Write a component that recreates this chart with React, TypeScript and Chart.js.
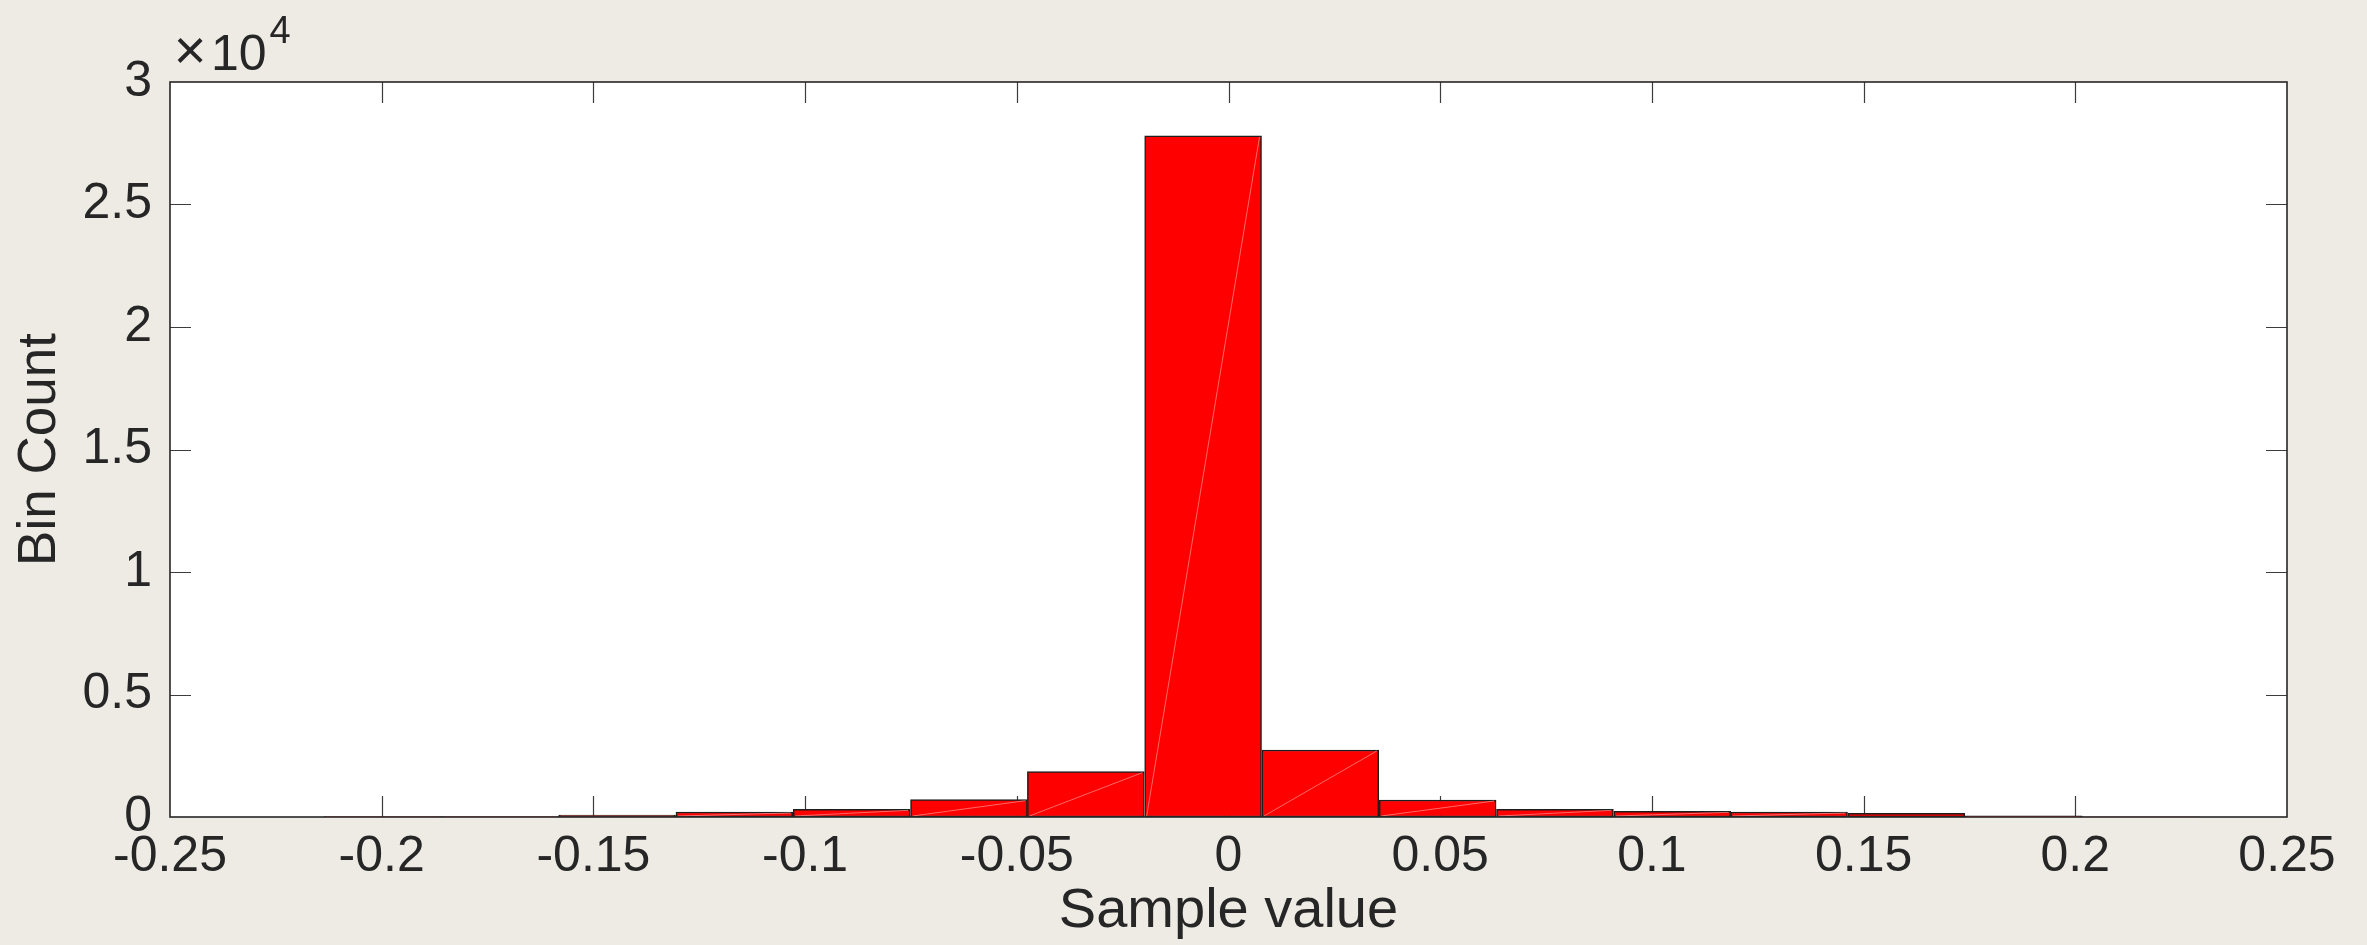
import React, { useEffect, useRef } from "react";
import { Chart, registerables } from "chart.js";

Chart.register(...registerables);

// ---- data ----
const binCenters = [
  -0.1998, -0.1721, -0.1444, -0.1167, -0.089, -0.0613, -0.0337, -0.006,
  0.0217, 0.0494, 0.0771, 0.1048, 0.1324, 0.1601, 0.1878, 0.2155,
];
const binCounts = [15, 20, 80, 205, 313, 707, 1850, 27800, 2735, 694, 313, 231, 204, 150, 45, 10];

const xTickValues = [-0.25, -0.2, -0.15, -0.1, -0.05, 0, 0.05, 0.1, 0.15, 0.2, 0.25];
const xTickLabels = ["-0.25", "-0.2", "-0.15", "-0.1", "-0.05", "0", "0.05", "0.1", "0.15", "0.2", "0.25"];
const yTickValues = [0, 5000, 10000, 15000, 20000, 25000, 30000];
const yTickLabels = ["0", "0.5", "1", "1.5", "2", "2.5", "3"];
const yExponentBase = "10";
const yExponent = "4";
const xTitle = "Sample value";
const yTitle = "Bin Count";

const FONT = '"Liberation Sans", Arial, Helvetica, sans-serif';
const TEXT = "#262626";
const W = 2367;
const H = 945;

const plotBg = {
  id: "plotBg",
  beforeDraw(chart: any) {
    const { ctx, chartArea } = chart;
    ctx.save();
    ctx.fillStyle = "#ffffff";
    ctx.fillRect(chartArea.left, chartArea.top, chartArea.right - chartArea.left, chartArea.bottom - chartArea.top);
    ctx.restore();
  },
};

const TICK_LEN = 21;

const axesTicks = {
  id: "axesTicks",
  beforeDatasetsDraw(chart: any) {
    const { ctx, chartArea } = chart;
    const xs = chart.scales.x;
    const ys = chart.scales.y;
    ctx.save();
    ctx.strokeStyle = "#3c3c3c";
    ctx.lineWidth = 1.2;
    ctx.beginPath();
    xTickValues.forEach((v) => {
      const px = Math.round(xs.getPixelForValue(v)) + 0.5;
      if (px <= chartArea.left + 1 || px >= chartArea.right - 1) return;
      ctx.moveTo(px, chartArea.bottom);
      ctx.lineTo(px, chartArea.bottom - TICK_LEN);
      ctx.moveTo(px, chartArea.top);
      ctx.lineTo(px, chartArea.top + TICK_LEN);
    });
    yTickValues.forEach((v) => {
      const py = Math.round(ys.getPixelForValue(v)) + 0.5;
      if (py <= chartArea.top + 1 || py >= chartArea.bottom - 1) return;
      ctx.moveTo(chartArea.left, py);
      ctx.lineTo(chartArea.left + TICK_LEN, py);
      ctx.moveTo(chartArea.right, py);
      ctx.lineTo(chartArea.right - TICK_LEN, py);
    });
    ctx.stroke();
    ctx.restore();
  },
  afterDatasetsDraw(chart: any) {
    const { ctx, chartArea } = chart;
    // faint diagonal seams visible inside the bars of the reference
    const meta = chart.getDatasetMeta(0);
    ctx.save();
    ctx.beginPath();
    ctx.rect(chartArea.left, chartArea.top, chartArea.right - chartArea.left, chartArea.bottom - chartArea.top);
    ctx.clip();
    ctx.strokeStyle = "rgba(255,190,190,0.55)";
    ctx.lineWidth = 1;
    meta.data.forEach((el: any) => {
      const p = el.getProps(["x", "y", "base", "width"], true);
      if (Math.abs(p.base - p.y) < 4) return;
      ctx.beginPath();
      ctx.moveTo(p.x - p.width / 2 + 2, p.base - 1);
      ctx.lineTo(p.x + p.width / 2 - 2, p.y + 1);
      ctx.stroke();
    });
    ctx.restore();

    // axes box
    ctx.save();
    ctx.strokeStyle = TEXT;
    ctx.lineWidth = 1.6;
    ctx.strokeRect(chartArea.left, chartArea.top, chartArea.right - chartArea.left, chartArea.bottom - chartArea.top);
    ctx.restore();
  },
  afterDraw(chart: any) {
    const { ctx, chartArea } = chart;
    ctx.save();
    ctx.fillStyle = TEXT;
    ctx.textAlign = "center";
    ctx.textBaseline = "middle";
    ctx.font = `56px ${FONT}`;
    ctx.fillText("\u00d7", chartArea.left + 20, chartArea.top - 28);
    ctx.textAlign = "left";
    ctx.textBaseline = "alphabetic";
    ctx.font = `50px ${FONT}`;
    const baseX = chartArea.left + 41;
    ctx.fillText(yExponentBase, baseX, chartArea.top - 12);
    const bw = ctx.measureText(yExponentBase).width;
    ctx.font = `38px ${FONT}`;
    ctx.fillText(yExponent, baseX + bw + 3, chartArea.top - 39);
    ctx.restore();
  },
};

export default function App() {
  const ref = useRef<HTMLCanvasElement | null>(null);

  useEffect(() => {
    document.body.style.margin = "0";
    document.body.style.background = "#eeebe5";
    const canvas = ref.current;
    if (!canvas) return;
    const chart = new Chart(canvas, {
      type: "bar",
      data: {
        datasets: [
          {
            data: binCenters.map((c, i) => ({ x: c, y: binCounts[i] })),
            backgroundColor: "#ff0000",
            borderColor: "#1e1e1e",
            borderWidth: 1.5,
            borderSkipped: false,
            barPercentage: 1,
            categoryPercentage: 1,
          },
        ],
      },
      options: {
        animation: false,
        responsive: false,
        devicePixelRatio: 1,
        events: [],
        layout: { padding: { left: 0, right: 80, top: 82, bottom: 0 } },
        plugins: { legend: { display: false }, tooltip: { enabled: false } },
        scales: {
          x: {
            type: "linear",
            min: -0.25,
            max: 0.25,
            offset: false,
            grid: { display: false, drawTicks: false, offset: false },
            border: { display: false },
            afterBuildTicks: (s: any) => {
              s.ticks = xTickValues.map((v) => ({ value: v }));
            },
            afterFit: (s: any) => {
              s.height = 128;
            },
            ticks: {
              autoSkip: false,
              maxRotation: 0,
              minRotation: 0,
              padding: 10,
              color: TEXT,
              font: { family: FONT, size: 50 },
              callback: (_v: any, i: number) => xTickLabels[i],
            },
            title: {
              display: true,
              text: xTitle,
              color: TEXT,
              font: { family: FONT, size: 56 },
              padding: { top: 0, bottom: 0 },
            },
          },
          y: {
            type: "linear",
            min: 0,
            max: 30000,
            grid: { display: false, drawTicks: false },
            border: { display: false },
            afterBuildTicks: (s: any) => {
              s.ticks = yTickValues.map((v) => ({ value: v }));
            },
            afterFit: (s: any) => {
              s.width = 170;
            },
            ticks: {
              autoSkip: false,
              padding: 18,
              color: TEXT,
              font: { family: FONT, size: 50 },
              callback: (_v: any, i: number) => yTickLabels[i],
            },
            title: {
              display: true,
              text: yTitle,
              color: TEXT,
              font: { family: FONT, size: 53 },
              padding: { top: 9, bottom: 0 },
            },
          },
        },
      },
      plugins: [plotBg, axesTicks],
    });
    return () => chart.destroy();
  }, []);

  return (
    <div style={{ width: W, height: H, background: "#eeebe5" }}>
      <canvas ref={ref} width={W} height={H} style={{ display: "block", width: W, height: H }} />
    </div>
  );
}
